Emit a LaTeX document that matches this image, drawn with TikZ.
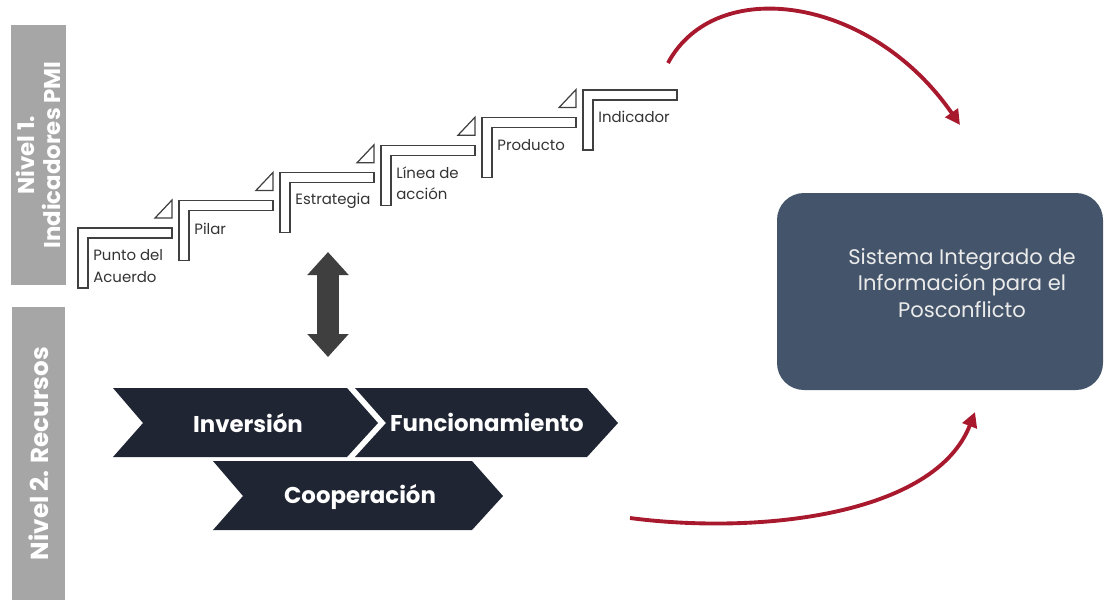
\documentclass[tikz,border=0pt]{standalone}
\usepackage{fontspec}
\setmainfont{Poppins}
\usetikzlibrary{arrows.meta}
\definecolor{barra}{HTML}{A6A6A6}
\definecolor{escalon}{HTML}{404040}
\definecolor{flecha}{HTML}{3F3F3F}
\definecolor{chevron}{HTML}{1F2532}
\definecolor{caja}{HTML}{44546A}
\definecolor{rojo}{HTML}{A8192E}
\tikzset{
  nivel/.style={fill=barra, text=white, rotate=90, align=center, inner sep=0pt,
    font=\bfseries\fontsize{13}{14.5}\selectfont},
  peldano/.style={draw=escalon, fill=white, line width=0.7pt},
  etiqueta/.style={font=\fontsize{8.5}{12}\selectfont, text=black!80, align=left,
    anchor=west, inner sep=0pt},
  rotulo/.style={text=white, font=\bfseries\fontsize{13}{15}\selectfont, anchor=base, inner sep=0pt},
  curva/.style={draw=rojo, line width=2.2pt, -{Triangle[length=8.5pt,width=8.5pt]}}
}
\begin{document}
\begin{tikzpicture}[x=0.2mm, y=-0.2mm]
  \useasboundingbox (0,0) rectangle (1105,599);
  \node[nivel, minimum width=52mm, minimum height=10.8mm] (n1) at (38.5,155) {Nivel 1.\\Indicadores PMI};
  \node[nivel, minimum width=58.6mm, minimum height=10.6mm,
    font=\bfseries\fontsize{14}{16}\selectfont] (n2) at (38.5,453.5) {Nivel 2. Recursos};
  % escalones
  \foreach \i/\txt/\dy in {0/{Punto del\\Acuerdo}/38, 1/Pilar/28, 2/Estrategia/28,
      3/{Línea de\\acción}/38, 4/Producto/27, 5/Indicador/27}{
    \begin{scope}[shift={(78+101*\i,228-27.6*\i)}]
      \draw[peldano] (0,0) -- (94,0) -- (94,10) -- (10,10) -- (10,60) -- (0,60) -- cycle;
      \ifnum\i<5 \draw[peldano] (77,-10) -- (94,-10) -- (94,-28) -- cycle; \fi
      \node[etiqueta] (e\i) at (15,\dy) {\txt};
    \end{scope}
  }
  \coordinate (dtop) at (328,252);
  \coordinate (dbot) at (328,357);
  \draw[flecha, line width=4.4mm, {Triangle[length=4.6mm,width=8mm]}-{Triangle[length=4.6mm,width=8mm]}] (dtop) -- (dbot);
  % recursos
  \fill[chevron] (113,388) -- (347,388) -- (378,423) -- (347,457) -- (113,457) -- (143,423) -- cycle;
  \fill[chevron] (355,388) -- (587,388) -- (618,423) -- (587,457) -- (355,457) -- (386,423) -- cycle;
  \fill[chevron] (213,461) -- (472,461) -- (503,496) -- (472,530) -- (213,530) -- (243,496) -- cycle;
  \node[rotulo] (inv) at (248,432) {Inversión};
  \node[rotulo] (fun) at (487,431) {Funcionamiento};
  \node[rotulo] (coop) at (360,503) {Cooperación};
  % sistema
  \node[fill=caja, rounded corners=5.4mm, minimum width=65.2mm, minimum height=39.4mm] (sip) at (940,291.5) {};
  \node[text=white!92!black, font=\fontsize{12}{15}\selectfont, align=center] (siptxt) at (962,283)
    {Sistema Integrado de\\Información para el\\Posconflicto};
  \coordinate (a1) at (668,63);
  \coordinate (a2) at (960,125);
  \draw[curva] (a1) .. controls (715,-25) and (870,-5) .. (a2);
  \coordinate (b1) at (630,518);
  \coordinate (b2) at (975,412);
  \draw[curva] (b1) .. controls (760,535) and (935,515) .. (b2);
\end{tikzpicture}
\end{document}
